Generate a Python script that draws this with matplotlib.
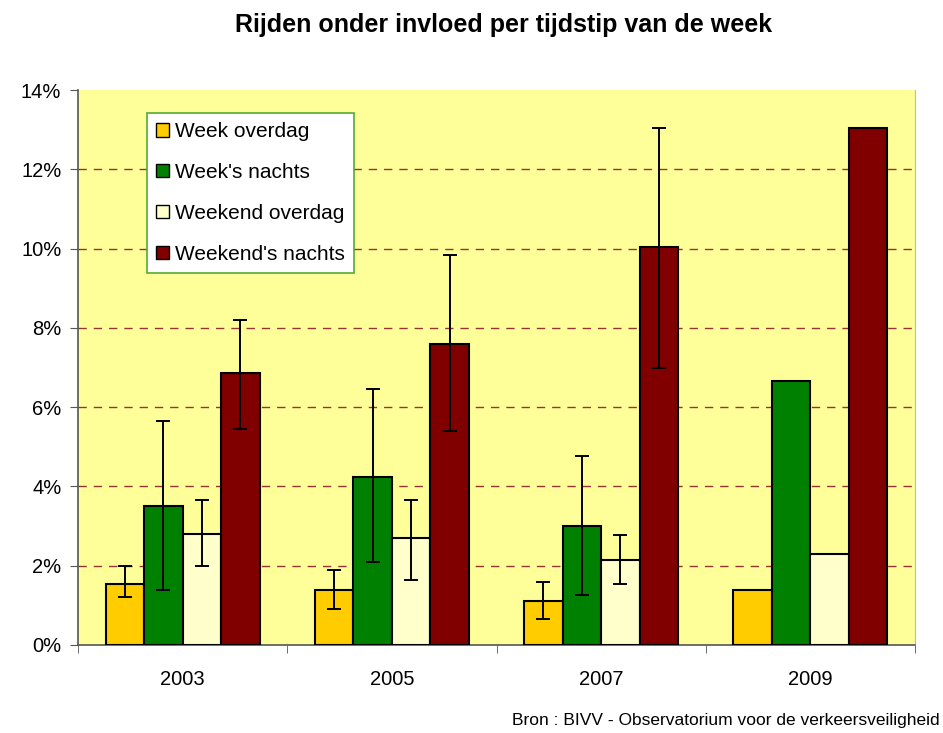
import numpy as np
import matplotlib.pyplot as plt
from matplotlib.ticker import FuncFormatter

plt.rcParams['font.family'] = ['Liberation Sans', 'DejaVu Sans']

# Data (percent)
years = ['2003', '2005', '2007', '2009']
series = ['Week overdag', "Week's nachts", 'Weekend overdag', "Weekend's nachts"]
week_dag = [1.55, 1.4, 1.1, 1.4]
week_nacht = [3.5, 4.25, 3.0, 6.65]
weekend_dag = [2.8, 2.7, 2.15, 2.3]
weekend_nacht = [6.85, 7.6, 10.05, 13.05]
# error bar limits (low, high); None for 2009
week_dag_lo = [1.2, 0.9, 0.65, None]
week_dag_hi = [2.0, 1.9, 1.6, None]
week_nacht_lo = [1.4, 2.1, 1.25, None]
week_nacht_hi = [5.65, 6.45, 4.78, None]
weekend_dag_lo = [2.0, 1.65, 1.55, None]
weekend_dag_hi = [3.65, 3.65, 2.78, None]
weekend_nacht_lo = [5.45, 5.4, 7.0, None]
weekend_nacht_hi = [8.2, 9.85, 13.05, None]

colors = ['#FFCC00', '#008000', '#FFFFCC', '#800000']

values = [week_dag, week_nacht, weekend_dag, weekend_nacht]
lows = [week_dag_lo, week_nacht_lo, weekend_dag_lo, weekend_nacht_lo]
highs = [week_dag_hi, week_nacht_hi, weekend_dag_hi, weekend_nacht_hi]

fig = plt.figure(figsize=(9.43, 7.33), dpi=100)
ax = fig.add_axes([78 / 943, 1 - 645 / 733, (915 - 78) / 943, (645 - 90) / 733])
ax.set_facecolor('#FFFF99')

x = np.arange(len(years))
w = 0.184
for i, (vals, lo, hi, c) in enumerate(zip(values, lows, highs, colors)):
    pos = x + (i - 1.5) * w
    ax.bar(pos, vals, width=w, color=c, edgecolor='black', linewidth=1.5,
           label=series[i], zorder=3)
    idx = [j for j in range(len(years)) if lo[j] is not None]
    ye = np.array([[vals[j] - lo[j] for j in idx], [hi[j] - vals[j] for j in idx]])
    ax.errorbar(pos[idx], [vals[j] for j in idx], yerr=ye, fmt='none',
                ecolor='black', elinewidth=1.4, capsize=5, capthick=1.4, zorder=4)

ax.set_xlim(-0.5, 3.5)
ax.set_ylim(0, 14)
ax.set_yticks(np.arange(0, 15, 2))
ax.yaxis.set_major_formatter(FuncFormatter(lambda v, p: f'{v:.0f}%'))
# dashed gridlines for 2..12 only (no line at the top)
for g in range(2, 14, 2):
    ax.axhline(g, color='#993333', linestyle=(0, (6, 5)), linewidth=1.0, zorder=1)
ax.set_xticks(x)
ax.set_xticklabels(years)
ax.set_xticks(np.arange(-0.5, 3.6, 1), minor=True)
ax.tick_params(axis='x', which='major', length=0, pad=18, labelsize=14.5)
ax.tick_params(axis='x', which='minor', length=6, color='#555555')
ax.tick_params(axis='y', length=6, color='#555555', labelsize=14.5, pad=6)

ax.spines['top'].set_visible(False)
ax.spines['right'].set_color('#bbbbbb')
ax.spines['left'].set_color('#555555')
ax.spines['bottom'].set_color('#555555')
ax.spines['left'].set_linewidth(1.2)
ax.spines['bottom'].set_linewidth(1.2)

leg = ax.legend(loc='upper left', bbox_to_anchor=(0.0824, 0.9586), fontsize=15,
                frameon=True, fancybox=False, edgecolor='#55AA33',
                borderaxespad=0,
                handlelength=0.6, handleheight=0.6, handletextpad=0.3,
                labelspacing=1.05, borderpad=0.45)
leg.get_frame().set_linewidth(1.2)
leg.get_frame().set_facecolor('white')
leg.get_frame().set_alpha(1)
leg.set_zorder(5)
for h in leg.legend_handles:
    h.set_linewidth(1.0)

fig.text(504 / 943, 1 - 25 / 733, 'Rijden onder invloed per tijdstip van de week',
         ha='center', va='center', fontsize=18, fontweight='bold')
fig.text(940 / 943, 1 - 720 / 733, 'Bron : BIVV - Observatorium voor de verkeersveiligheid',
         ha='right', va='center', fontsize=12.5)

fig.savefig('out.png', dpi=100)
